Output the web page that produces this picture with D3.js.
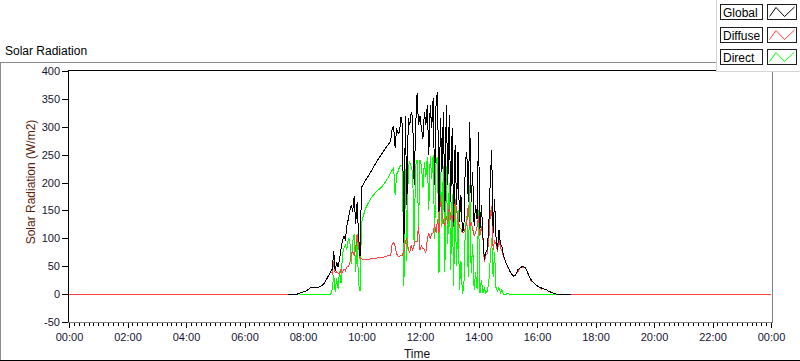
<!DOCTYPE html>
<html>
<head>
<meta charset="utf-8">
<script src="https://d3js.org/d3.v7.min.js"></script>
<style>
  body { margin: 0; background: #fff; }
  svg text { font-family: "Liberation Sans", Arial, sans-serif; }
  .axis .tick text { font-size: 11px; fill: #141432; }
  .axis .tick line { stroke: #000; shape-rendering: crispEdges; }
  .series { fill: none; stroke-width: 1; shape-rendering: crispEdges; }
  .frame { shape-rendering: crispEdges; }
</style>
</head>
<body>
<svg width="800" height="361"></svg>
<script>
// readings every 3 minutes from 07:30, W/m2 (null = no reading)
var startMin = 7 * 60 + 30, stepMin = 3;

var globalRad = [
  0,0,0,0,0,0,0,1,2,3,
  4,4,5,7,9,11,12,11,12,11,
  12,13,14,15,18,21,26,31,35,40,
  45,77,42,58,48,62,81,96,104,98,
  122,135,150,160,148,176,125,165,105,68,
  191,196,201,205,209,213,218,222,227,231,
  236,240,244,248,252,256,260,264,267,271,
  275,298,300,262,297,288,291,318,302,92,
  320,159,315,303,327,315,195,300,360,303,
  320,297,279,327,303,339,249,339,297,351,
  195,345,363,147,315,219,327,147,339,195,
  321,165,297,123,267,159,255,129,177,111,
  117,237,255,165,309,165,219,123,159,135,
  291,117,159,105,62,75,80,120,200,258,
  110,170,100,80,115,90,86,70,62,55,
  50,44,38,35,32,33,38,44,46,48,
  50,49,47,42,36,30,26,22,20,17,
  15,13,12,11,10,9,8,7,5,4,
  3,2,1,0,0,0,0,0,0,0,
  0,0,0,0
];

var diffuseRad = [
  0,0,0,0,0,0,0,1,2,3,
  4,4,5,7,9,11,12,11,12,11,
  12,13,14,15,18,21,26,31,35,40,
  37,59,38,40,38,36,45,40,45,42,
  48,50,55,72,77,70,80,108,85,63,
  64,62,62,63,62,62,63,63,64,64,
  64,65,65,65,66,66,67,68,69,70,
  70,90,92,86,72,68,68,70,70,77,
  95,99,80,75,88,78,90,95,95,122,
  80,86,82,80,75,98,110,100,108,110,
  125,110,135,110,177,147,130,122,140,125,
  159,135,140,120,171,150,135,120,117,110,
  111,117,128,159,120,128,117,105,110,120,
  140,105,122,100,58,70,72,95,140,158,
  80,95,90,75,103,82,78,68,62,55,
  48,44,38,35,32,33,38,40,46,48,
  47,49,47,42,36,30,24,22,20,17,
  15,13,12,9,10,9,8,7,5,4,
  3,2,1,0,0,0,0,0,0,0,
  0,0,0,0
];

var directRad = [
  null,null,null,null,null,null,null,null,0,0,
  0,0,0,0,0,0,0,0,0,0,
  0,0,0,0,0,0,0,0,0,0,
  8,35,3,28,10,42,20,72,83,88,
  80,100,95,54,95,108,40,95,18,5,
  128,138,147,155,160,165,170,174,177,180,
  183,186,188,190,193,196,200,204,208,212,
  218,222,226,177,215,220,228,231,231,15,
  225,60,231,237,228,219,86,231,240,120,
  240,231,190,237,210,245,150,248,207,250,
  98,240,245,38,219,120,230,40,230,90,
  200,44,180,14,165,50,150,8,60,0,
  14,120,140,30,195,38,90,8,40,10,
  150,2,26,2,10,2,5,20,60,100,
  30,75,10,5,12,2,8,0,0,0,
  2,0,0,0,0,0,0,0,0,0,
  0,0,0,0,0,0,0,0,0,0,
  0,0,0,0,0,0,0,0,0,0,
  0,0,0,0,null,null,null,null,null,null,
  null,null,null,null
];

var seriesNames = ["Global", "Diffuse", "Direct"];
var seriesColors = ["#000000", "#ff4040", "#00ff00"];
var yTicks = [-50, 0, 50, 100, 150, 200, 250, 300, 350, 400];
var xTickMins = [0, 120, 240, 360, 480, 600, 720, 840, 960, 1080, 1200, 1320, 1440];
var xTickLabels = ["00:00", "02:00", "04:00", "06:00", "08:00", "10:00", "12:00",
                   "14:00", "16:00", "18:00", "20:00", "22:00", "00:00"];

var svg = d3.select("svg");
var plotL = 68, plotT = 71, plotR = 772, plotB = 322;

var x = d3.scaleLinear().domain([0, 1440]).range([69, 771]);
var y = d3.scaleLinear().domain([-50, 400]).range([322, 71]);

// outer frame of the graph control
svg.append("line").attr("class", "frame").attr("x1", 0).attr("x2", 717).attr("y1", 62.5).attr("y2", 62.5).attr("stroke", "#8c8c8c");
svg.append("line").attr("class", "frame").attr("x1", 0.5).attr("x2", 0.5).attr("y1", 62).attr("y2", 361).attr("stroke", "#8c8c8c");
svg.append("line").attr("class", "frame").attr("x1", 0).attr("x2", 800).attr("y1", 360.5).attr("y2", 360.5).attr("stroke", "#000");

svg.append("text").attr("x", 5).attr("y", 55).attr("font-size", 12).attr("fill", "#000").text("Solar Radiation");

// plot area
svg.append("rect").attr("x", plotL).attr("y", plotT).attr("width", plotR - plotL).attr("height", plotB - plotT).attr("fill", "#fff");

svg.append("defs").append("clipPath").attr("id", "plotclip")
  .append("rect").attr("x", plotL + 1).attr("y", plotT).attr("width", plotR - plotL - 1).attr("height", plotB - plotT);

function points(vals) {
  return vals.map(function (v, i) { return { t: startMin + i * stepMin, v: v }; });
}

var line = d3.line()
  .defined(function (d) { return d.v != null; })
  .x(function (d) { return x(d.t); })
  .y(function (d) { return y(d.v); });

var diffusePts = [{ t: 0, v: 0 }].concat(points(diffuseRad), [{ t: 1440, v: 0 }]);

var plot = svg.append("g").attr("clip-path", "url(#plotclip)");
plot.append("path").attr("class", "series").attr("stroke", seriesColors[2]).attr("d", line(points(directRad)));
plot.append("path").attr("class", "series").attr("stroke", seriesColors[1]).attr("d", line(diffusePts));
plot.append("path").attr("class", "series").attr("stroke", seriesColors[0]).attr("d", line(points(globalRad)));

// plot borders: dark top/left, grey bottom/right
svg.append("line").attr("class", "frame").attr("x1", plotL).attr("x2", plotR).attr("y1", plotT - 0.5).attr("y2", plotT - 0.5).attr("stroke", "#000");
svg.append("line").attr("class", "frame").attr("x1", plotL + 0.5).attr("x2", plotL + 0.5).attr("y1", plotT - 1).attr("y2", plotB).attr("stroke", "#000");
svg.append("line").attr("class", "frame").attr("x1", plotR + 0.5).attr("x2", plotR + 0.5).attr("y1", plotT - 1).attr("y2", plotB + 1).attr("stroke", "#808080");
svg.append("line").attr("class", "frame").attr("x1", plotL).attr("x2", plotR + 1).attr("y1", plotB + 0.5).attr("y2", plotB + 0.5).attr("stroke", "#808080");

// y axis
svg.append("g").attr("class", "axis")
  .attr("transform", "translate(" + plotL + ",0)")
  .call(d3.axisLeft(y).tickValues(yTicks).tickSize(6).tickPadding(2).tickFormat(function (d) { return String(d); }))
  .call(function (g) { g.select(".domain").remove(); })
  .attr("font-family", null).attr("font-size", null);

// x axis: minor ticks every 10 minutes, labelled ticks every 2 hours
svg.append("g").attr("class", "axis")
  .attr("transform", "translate(0," + (plotB + 1) + ")")
  .call(d3.axisBottom(x).tickValues(d3.range(0, 1441, 10)).tickSize(3).tickFormat(""))
  .call(function (g) { g.select(".domain").remove(); });

svg.append("g").attr("class", "axis")
  .attr("transform", "translate(0," + (plotB + 1) + ")")
  .call(d3.axisBottom(x).tickValues(xTickMins).tickSize(5).tickPadding(5)
    .tickFormat(function (d, i) { return xTickLabels[i]; }))
  .call(function (g) { g.select(".domain").remove(); })
  .attr("font-family", null).attr("font-size", null);

svg.append("text").attr("x", 417).attr("y", 358).attr("text-anchor", "middle")
  .attr("font-size", 12).attr("fill", "#1a1010").text("Time");

svg.append("text").attr("transform", "translate(35,182) rotate(-90)").attr("text-anchor", "middle")
  .attr("font-size", 12).attr("fill", "#5a1e0a").text("Solar Radiation (W/m2)");

// legend panel
var legend = svg.append("g");
legend.append("rect").attr("x", 717).attr("y", 0).attr("width", 83).attr("height", 72).attr("fill", "#fff");
legend.append("line").attr("class", "frame").attr("x1", 716.5).attr("x2", 716.5).attr("y1", 0).attr("y2", 72).attr("stroke", "#d4d4d4");
legend.append("line").attr("class", "frame").attr("x1", 716).attr("x2", 800).attr("y1", 71.5).attr("y2", 71.5).attr("stroke", "#d4d4d4");

var zig = d3.line();
seriesNames.forEach(function (name, i) {
  var ry = 4 + i * 22.7;
  var row = legend.append("g").attr("transform", "translate(0," + Math.round(ry) + ")");
  row.append("rect").attr("class", "frame").attr("x", 720.5).attr("y", 0.5).attr("width", 42).attr("height", 15)
    .attr("fill", "#fff").attr("stroke", "#1e1e1e");
  row.append("text").attr("x", 723).attr("y", 12.5).attr("font-size", 12).attr("fill", "#000").text(name);
  row.append("rect").attr("class", "frame").attr("x", 767.5).attr("y", 0.5).attr("width", 29).attr("height", 15)
    .attr("fill", "#fff").attr("stroke", "#1e1e1e");
  row.append("path").attr("fill", "none").attr("stroke", seriesColors[i]).attr("stroke-width", 1)
    .attr("d", zig([[769.5, 12.5], [776, 3.5], [784.5, 12.5], [794.5, 3]]));
});
</script>
</body>
</html>
